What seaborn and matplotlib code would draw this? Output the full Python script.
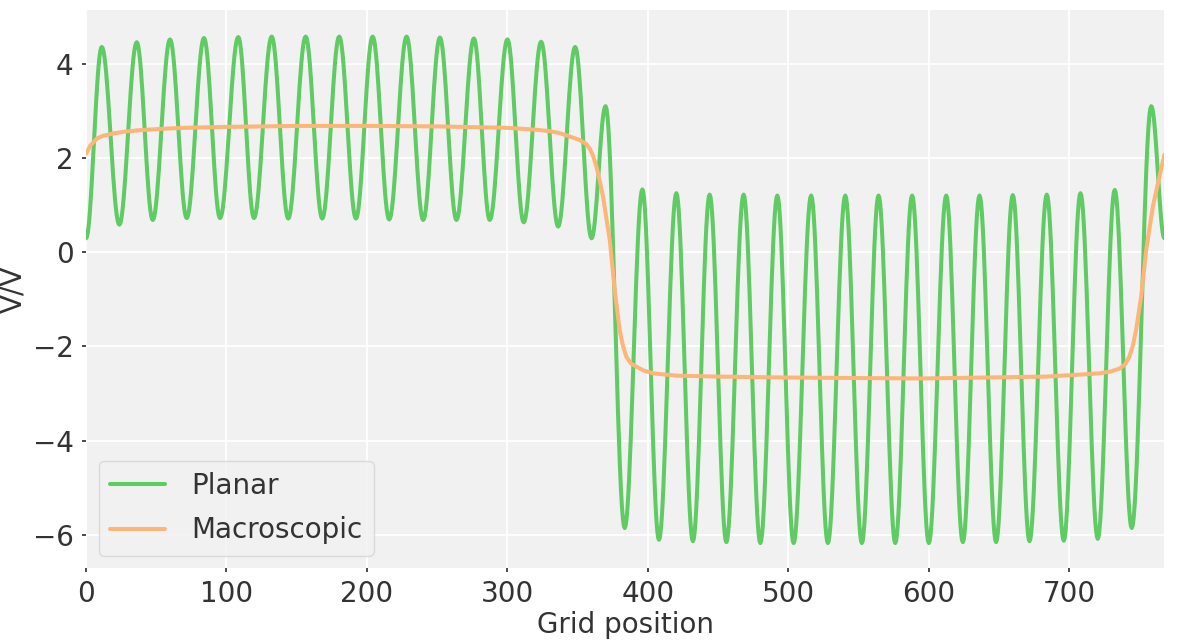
import numpy as np
import pandas as pd
import matplotlib.pyplot as plt
import seaborn as sns

GREEN = "#5ecc62"
ORANGE = "#ffb478"
TEXT_COLOR = "#333333"

# planar average: positions and values of the peaks / troughs
planar_x = [0, 11.2, 23.7, 36.1, 47.5, 59.8, 71.7, 84.0, 95.4, 108.4, 119.6,
            132.2, 144.0, 156.4, 168.2, 180.3, 192.2, 204.1, 215.9, 228.3, 240.1,
            252.0, 263.8, 276.2, 287.5, 300.1, 311.7, 324.1, 336.2, 348.3, 360.0,
            370.0, 383.6, 396.2, 408.0, 420.4, 432.2, 444.1, 456.0, 468.3, 480.2,
            492.3, 503.9, 516.4, 528.3, 540.7, 552.5, 564.4, 576.3, 588.3, 600.2,
            612.6, 624.4, 636.3, 648.1, 660.0, 671.9, 684.2, 696.3, 708.2, 720.5,
            732.6, 744.7, 758.6, 768]
planar_v = [0.30, 4.37, 0.59, 4.47, 0.69, 4.53, 0.73, 4.56, 0.73, 4.58, 0.73,
            4.59, 0.72, 4.59, 0.72, 4.59, 0.72, 4.59, 0.70, 4.59, 0.69,
            4.57, 0.69, 4.55, 0.69, 4.53, 0.64, 4.48, 0.55, 4.37, 0.30,
            3.11, -5.86, 1.34, -6.11, 1.26, -6.14, 1.23, -6.16, 1.23, -6.18,
            1.21, -6.18, 1.21, -6.18, 1.21, -6.18, 1.21, -6.18, 1.21, -6.18,
            1.21, -6.16, 1.21, -6.16, 1.22, -6.14, 1.23, -6.13, 1.26, -6.09,
            1.33, -5.86, 3.11, 0.30]

# macroscopic average
macro_x = [0, 3, 7.6, 12, 19.4, 28, 38.4, 55, 70, 100, 150, 200, 250, 300, 320,
           330, 337, 345, 351.6, 356, 358.7, 361, 363.5, 366, 368.2, 370.5, 373,
           376.5, 380, 382.5, 384.8, 388, 391.9, 397, 403.8, 420.4, 450, 500,
           595, 684, 712, 722, 730, 736, 740, 743, 745.5, 747.8, 751.4, 755,
           759.7, 764.4, 768]
macro_v = [2.10, 2.27, 2.42, 2.48, 2.53, 2.57, 2.60, 2.63, 2.65, 2.67, 2.69, 2.69,
           2.68, 2.65, 2.61, 2.58, 2.54, 2.46, 2.39, 2.31, 2.21, 2.06, 1.82, 1.50,
           1.18, 0.74, 0.26, -0.80, -1.65, -2.00, -2.22, -2.36, -2.43, -2.51,
           -2.57, -2.62, -2.64, -2.66, -2.68, -2.64, -2.59, -2.57, -2.53, -2.47,
           -2.38, -2.22, -1.98, -1.65, -0.94, 0.05, 0.97, 1.61, 2.08]


def smooth_extrema(xs, vs, n=20):
    # join neighbouring extrema with half-cosine arcs so the waves keep their shape
    out_x, out_v = [], []
    for x0, x1, v0, v1 in zip(xs[:-1], xs[1:], vs[:-1], vs[1:]):
        t = np.linspace(0, 1, n, endpoint=False)
        out_x.extend(x0 + (x1 - x0) * t)
        out_v.extend(v0 + (v1 - v0) * (1 - np.cos(np.pi * t)) / 2)
    out_x.append(xs[-1])
    out_v.append(vs[-1])
    return out_x, out_v


px, pv = smooth_extrema(planar_x, planar_v)
planar_df = pd.DataFrame({"x": px, "v": pv})
macro_df = pd.DataFrame({"x": macro_x, "v": macro_v})

sns.set_theme(style="darkgrid", rc={
    "axes.facecolor": "#f1f1f1",
    "grid.color": "white",
    "grid.linewidth": 1.3,
    "text.color": TEXT_COLOR,
    "axes.labelcolor": TEXT_COLOR,
    "xtick.color": TEXT_COLOR,
    "ytick.color": TEXT_COLOR,
    "xtick.bottom": True,
    "ytick.left": True,
    "xtick.major.size": 3,
    "ytick.major.size": 3,
})
plt.rcParams["font.family"] = ["DejaVu Sans"]

fig = plt.figure(figsize=(11.87, 6.4), dpi=100)
ax = fig.add_axes([0.0725, 0.1125, 0.9085, 0.8715])

sns.lineplot(data=planar_df, x="x", y="v", color=GREEN, linewidth=2.9,
             label="Planar", ax=ax, sort=False, estimator=None)
sns.lineplot(data=macro_df, x="x", y="v", color=ORANGE, linewidth=2.9,
             label="Macroscopic", ax=ax, sort=False, estimator=None)

ax.set_xlim(0, 768)
ax.set_ylim(-6.71, 5.15)
ax.set_xticks([0, 100, 200, 300, 400, 500, 600, 700])
ax.set_yticks([-6, -4, -2, 0, 2, 4])
ax.tick_params(labelsize=20, pad=6)
ax.set_xlabel("Grid position", fontsize=20, labelpad=2)
ax.set_ylabel("V/V", fontsize=20, labelpad=4)
for s in ax.spines.values():
    s.set_visible(False)

leg = ax.legend(loc="lower left", fontsize=20, frameon=True, fancybox=True,
                borderaxespad=0.45, handlelength=2.0, labelspacing=0.6,
                handletextpad=0.95)
leg.get_frame().set_facecolor("#f1f1f1")
leg.get_frame().set_edgecolor("#d4d4d4")

plt.savefig("out.png", dpi=100)
